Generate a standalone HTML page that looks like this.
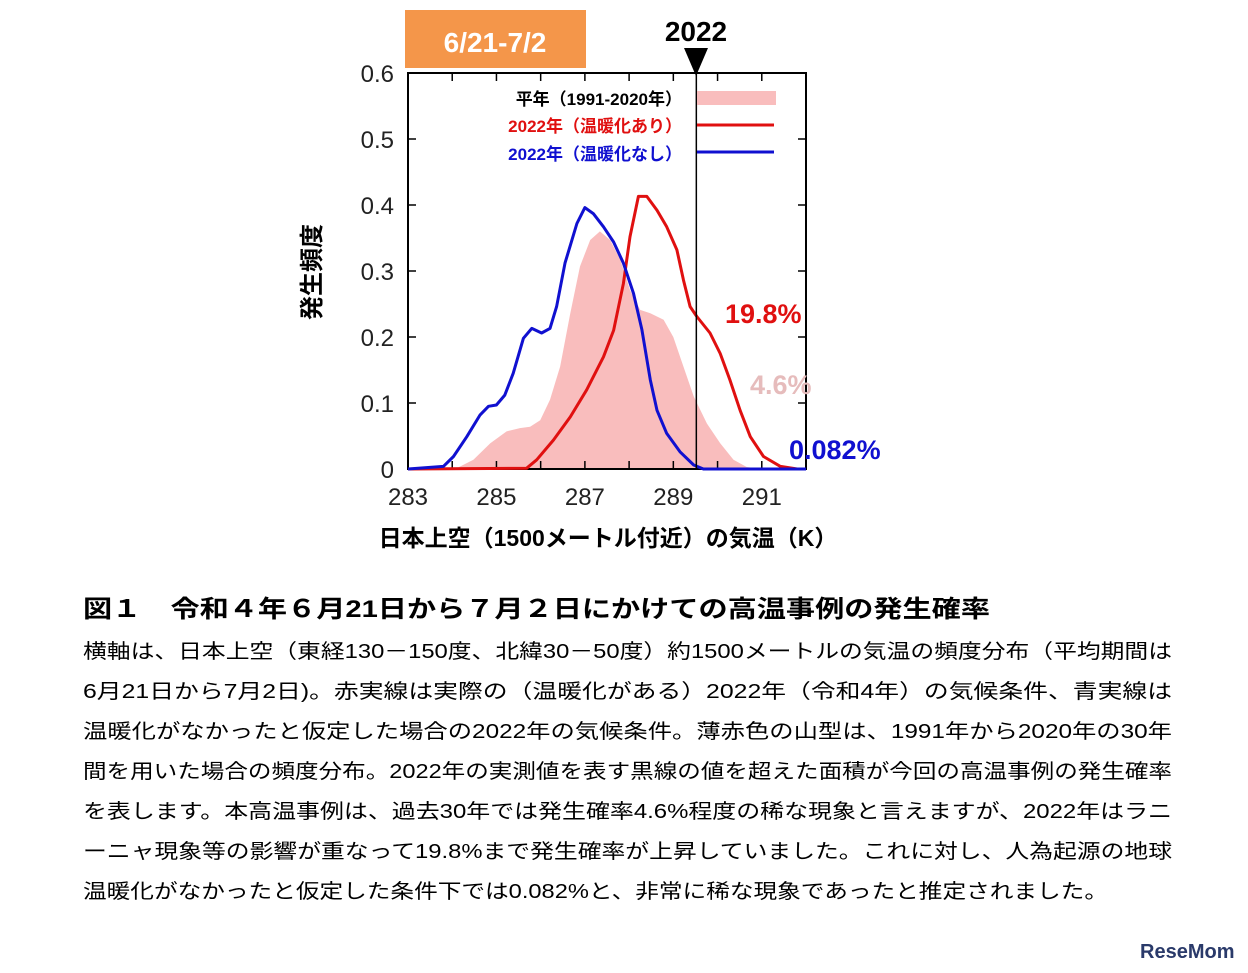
<!DOCTYPE html>
<html><head><meta charset="utf-8"><style>
html,body{margin:0;padding:0;background:#fff;}
svg{display:block;font-family:"Liberation Sans","Noto Sans CJK JP",sans-serif;}
</style></head><body>
<svg id="chart" width="1248" height="973" viewBox="0 0 1248 973">
<rect x="405" y="10" width="181" height="58" fill="#f4964a"/>
<text x="495" y="52" text-anchor="middle" font-size="28" font-weight="bold" fill="#fff">6/21-7/2</text>
<text x="696" y="41" text-anchor="middle" font-size="28" font-weight="bold" fill="#000">2022</text>
<polygon points="684,48 708,48 696,76" fill="#000"/>
<g id="plot"></g>
<text transform="translate(320,272) rotate(-90)" text-anchor="middle" font-size="24" font-weight="bold">発生頻度</text>
<text x="608" y="546" text-anchor="middle" font-size="23" font-weight="bold">日本上空（1500メートル付近）の気温（K）</text>
<text x="725" y="323" font-size="27" font-weight="bold" fill="#e01010">19.8%</text>
<text x="750" y="394" font-size="27" font-weight="bold" fill="#e6bcbc">4.6%</text>
<text x="789" y="459" font-size="27" font-weight="bold" fill="#1010d0">0.082%</text>
<g>
<text x="682" y="105" text-anchor="end" font-size="17" font-weight="bold" fill="#000">平年（1991-2020年）</text>
<rect x="697" y="91" width="79" height="14" fill="#f9bdbd"/>
<text x="682" y="132" text-anchor="end" font-size="17" font-weight="bold" fill="#e01010">2022年（温暖化あり）</text>
<line x1="697" y1="125" x2="774" y2="125" stroke="#e01010" stroke-width="3"/>
<text x="682" y="160" text-anchor="end" font-size="17" font-weight="bold" fill="#1010d0">2022年（温暖化なし）</text>
<line x1="697" y1="152" x2="774" y2="152" stroke="#1010d0" stroke-width="3"/>
</g>
<g font-size="20">
<text x="83" y="617" font-size="24" font-weight="bold" textLength="907" lengthAdjust="spacingAndGlyphs">図１　令和４年６月21日から７月２日にかけての高温事例の発生確率</text>
<text x="83" y="658" textLength="1089" lengthAdjust="spacingAndGlyphs">横軸は、日本上空（東経130－150度、北緯30－50度）約1500メートルの気温の頻度分布（平均期間は</text>
<text x="83" y="698" textLength="1089" lengthAdjust="spacingAndGlyphs">6月21日から7月2日)。赤実線は実際の（温暖化がある）2022年（令和4年）の気候条件、青実線は</text>
<text x="83" y="738" textLength="1089" lengthAdjust="spacingAndGlyphs">温暖化がなかったと仮定した場合の2022年の気候条件。薄赤色の山型は、1991年から2020年の30年</text>
<text x="83" y="778" textLength="1089" lengthAdjust="spacingAndGlyphs">間を用いた場合の頻度分布。2022年の実測値を表す黒線の値を超えた面積が今回の高温事例の発生確率</text>
<text x="83" y="818" textLength="1089" lengthAdjust="spacingAndGlyphs">を表します。本高温事例は、過去30年では発生確率4.6%程度の稀な現象と言えますが、2022年はラニ</text>
<text x="83" y="858" textLength="1089" lengthAdjust="spacingAndGlyphs">ーニャ現象等の影響が重なって19.8%まで発生確率が上昇していました。これに対し、人為起源の地球</text>
<text x="83" y="898" textLength="1025" lengthAdjust="spacingAndGlyphs">温暖化がなかったと仮定した条件下では0.082%と、非常に稀な現象であったと推定されました。</text>
</g>
<text x="1140" y="958" font-size="20" font-weight="bold" fill="#2a3a6a">ReseMom</text>
</svg>
<script>
const xMin = 283, xMax = 292, yMin = 0, yMax = 0.6;
const xTickLabels = [283, 285, 287, 289, 291];
const yTickLabels = [0, 0.1, 0.2, 0.3, 0.4, 0.5, 0.6];
const observed2022 = 289.52;
const normalX = [283,284.1,284.48,284.86,285.23,285.53,285.76,285.99,286.21,286.44,286.67,286.89,287.12,287.34,287.57,287.8,288.02,288.25,288.48,288.78,289.0,289.23,289.46,289.76,290.06,290.36,290.66,291,292];
const normalY = [0,0.001,0.014,0.039,0.057,0.062,0.064,0.074,0.105,0.155,0.236,0.307,0.347,0.36,0.347,0.317,0.271,0.241,0.236,0.226,0.2,0.155,0.11,0.069,0.039,0.014,0.003,0,0];
const warmX = [283,285.68,285.91,286.29,286.67,287.04,287.42,287.65,287.87,288.02,288.21,288.4,288.63,288.85,289.08,289.23,289.38,289.53,289.83,290.06,290.28,290.51,290.74,291.04,291.42,291.8,292];
const warmY = [0,0.001,0.014,0.044,0.079,0.12,0.17,0.21,0.281,0.352,0.413,0.413,0.392,0.367,0.332,0.286,0.246,0.231,0.206,0.175,0.135,0.089,0.049,0.019,0.004,0,0];
const noWarmX = [283,283.8,284.03,284.33,284.63,284.82,285.0,285.19,285.38,285.61,285.8,286.02,286.21,286.36,286.55,286.82,287.0,287.19,287.42,287.65,287.87,288.1,288.29,288.48,288.63,288.85,289.15,289.46,289.68,292];
const noWarmY = [0,0.004,0.019,0.049,0.082,0.095,0.097,0.112,0.145,0.198,0.213,0.206,0.213,0.246,0.312,0.372,0.396,0.387,0.367,0.344,0.312,0.266,0.211,0.135,0.089,0.054,0.026,0.006,0,0];

const L = 408, R = 806, T = 73, B = 469;
const sx = v => L + (v - xMin) / (xMax - xMin) * (R - L);
const sy = v => B - (v - yMin) / (yMax - yMin) * (B - T);
const NS = 'http://www.w3.org/2000/svg';
const g = document.getElementById('plot');
function mk(tag, attrs) { const e = document.createElementNS(NS, tag); for (const k in attrs) e.setAttribute(k, attrs[k]); g.appendChild(e); return e; }
function pts(xs, ys) { return xs.map((x, i) => sx(x).toFixed(1) + ',' + sy(ys[i]).toFixed(1)).join(' '); }

const area = mk('polygon', {points: pts(normalX, normalY) + ' ' + sx(xMax) + ',' + sy(0) + ' ' + sx(xMin) + ',' + sy(0), fill: '#f9bdbd'});



const frame = mk('rect', {x: L, y: T, width: R - L, height: B - T, fill: 'none', stroke: '#000', 'stroke-width': 2});



for (let k = xMin; k <= xMax; k++) {
  const t1 = mk('line', {x1: sx(k), y1: B, x2: sx(k), y2: B - 8, stroke: '#000', 'stroke-width': 1.5});
  
  
  const t2 = mk('line', {x1: sx(k), y1: T, x2: sx(k), y2: T + 8, stroke: '#000', 'stroke-width': 1.5});
  
  
}
xTickLabels.forEach(v => {
  const t = mk('text', {x: sx(v), y: B + 36, 'text-anchor': 'middle', 'font-size': 24, fill: '#222'});
  t.textContent = v;
  
  
});
yTickLabels.forEach(v => {
  const a = mk('line', {x1: L, y1: sy(v), x2: L + 8, y2: sy(v), stroke: '#000', 'stroke-width': 1.5});
  
  
  const b = mk('line', {x1: R, y1: sy(v), x2: R - 8, y2: sy(v), stroke: '#000', 'stroke-width': 1.5});
  
  
  const t = mk('text', {x: L - 14, y: sy(v) + 9, 'text-anchor': 'end', 'font-size': 24, fill: '#222'});
  t.textContent = v;
  
  
});

const red = mk('polyline', {points: pts(warmX, warmY), fill: 'none', stroke: '#e01010', 'stroke-width': 3, 'stroke-linejoin': 'round'});


const blue = mk('polyline', {points: pts(noWarmX, noWarmY), fill: 'none', stroke: '#1010d0', 'stroke-width': 3, 'stroke-linejoin': 'round'});



const obs = mk('line', {x1: sx(observed2022), y1: T, x2: sx(observed2022), y2: B, stroke: '#000', 'stroke-width': 1.5});


</script>
</body></html>
